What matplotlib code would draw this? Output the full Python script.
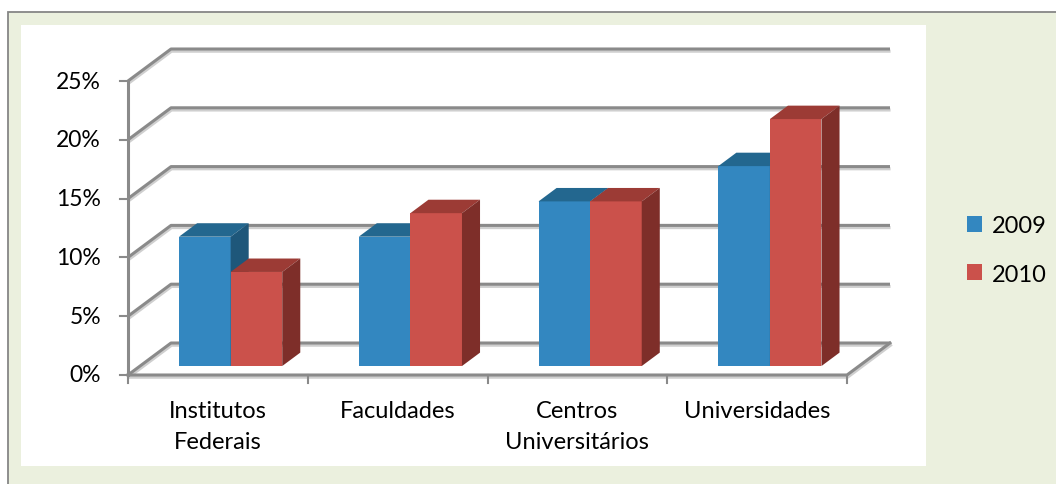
import matplotlib
import matplotlib.pyplot as plt
import matplotlib.patheffects as pe
from matplotlib.patches import Rectangle, Polygon, Patch

matplotlib.use("Agg")
plt.rcParams["font.family"] = ["Lato", "DejaVu Sans"]

# data
categories = ["Institutos\nFederais", "Faculdades", "Centros\nUniversitários", "Universidades"]
years = ["2009", "2010"]
v2009 = [11, 11, 14, 17]
v2010 = [8, 13, 14, 21]
yticks = [0, 5, 10, 15, 20, 25]

# colours: front, top, side
colors = [("#3387C0", "#23678F", "#1E577A"),
          ("#CB514B", "#9C3B35", "#7E2E29")]
GRID = "#8A8A8A"

W, H = 1056, 485
# pixel scale of the plot (front plane)
PX_X = 179.75   # px per category
PX_Y = 11.76    # px per percent
X0_PX, Y0_PX = 128, 376

# oblique depth of the 3D box, in data units
DX, DY = 43 / PX_X, 32 / PX_Y
D0, D1 = 0.28, 0.70          # bar depth range (fraction of box depth)
BAR_OFF, BAR_W = 0.217, 0.287

fig = plt.figure(figsize=(W / 100, H / 100), dpi=100)
ax = fig.add_axes([0, 0, 1, 1])
ax.set_xlim(-X0_PX / PX_X, (W - X0_PX) / PX_X)
ax.set_ylim(-(H - Y0_PX) / PX_Y, Y0_PX / PX_Y)
ax.axis("off")

# chart area + plot area backgrounds
ax.add_patch(Rectangle((8 / W, -0.1), 1.1, 1.1 - 13 / H, transform=ax.transAxes,
                       facecolor="#EBF0DE", edgecolor="#868686", lw=1.3, zorder=0))
ax.add_patch(Rectangle((21 / W, 1 - 467 / H), 905 / W, 441 / H, transform=ax.transAxes,
                       facecolor="white", edgecolor="none", zorder=0.5))

shadow = [pe.SimpleLineShadow(offset=(0.4, -1.6), shadow_color="#CFCFCF", alpha=1), pe.Normal()]
ncat = len(categories)

# gridlines on side and back walls
for v in yticks:
    ax.plot([0, DX, ncat + DX], [v, v + DY, v + DY], color=GRID, lw=2.2,
            solid_capstyle="butt", path_effects=shadow, zorder=1)
# floor edges
ax.plot([0, ncat, ncat + DX], [0, 0, DY], color=GRID, lw=2.2, path_effects=shadow, zorder=1)
# value axis and ticks
ax.plot([0, 0], [0, yticks[-1]], color=GRID, lw=2.2, zorder=1.5)
for v in yticks:
    ax.plot([-8 / PX_X, 0], [v, v], color=GRID, lw=1.5, zorder=1.5)
    ax.text(-27 / PX_X, v, f"{v}%", ha="right", va="center", fontsize=16.5, color="black")
for i in range(ncat + 1):
    ax.plot([i, i], [0, -8 / PX_Y], color=GRID, lw=1.5, zorder=1.5)
for i, lab in enumerate(categories):
    ax.text(i + 0.5, -25 / PX_Y, lab, ha="center", va="top", fontsize=17,
            linespacing=1.6, color="black")

# 3D bars
ddx, ddy = (D1 - D0) * DX, (D1 - D0) * DY
for i in range(ncat):
    for s, vals in enumerate([v2009, v2010]):
        front, top, side = colors[s]
        x0 = i + BAR_OFF + s * BAR_W + D0 * DX
        x1 = x0 + BAR_W
        y0 = D0 * DY
        y1 = vals[i] + y0
        ax.add_patch(Polygon([(x0, y0), (x1, y0), (x1, y1), (x0, y1)], closed=True,
                             facecolor=front, edgecolor="none", zorder=3))
        ax.add_patch(Polygon([(x0, y1), (x1, y1), (x1 + ddx, y1 + ddy), (x0 + ddx, y1 + ddy)],
                             closed=True, facecolor=top, edgecolor="none", zorder=3))
        ax.add_patch(Polygon([(x1, y0), (x1 + ddx, y0 + ddy), (x1 + ddx, y1 + ddy), (x1, y1)],
                             closed=True, facecolor=side, edgecolor="none", zorder=3))

handles = [Patch(facecolor=colors[s][0], edgecolor="none") for s in range(len(years))]
ax.legend(handles, years, loc="center left", bbox_to_anchor=(967 / W, 1 - 251 / H),
          frameon=False, fontsize=17, handlelength=0.65, handleheight=0.65,
          handletextpad=0.4, labelspacing=1.15, borderpad=0, borderaxespad=0)

fig.savefig("out.png", dpi=100)
plt.close(fig)
